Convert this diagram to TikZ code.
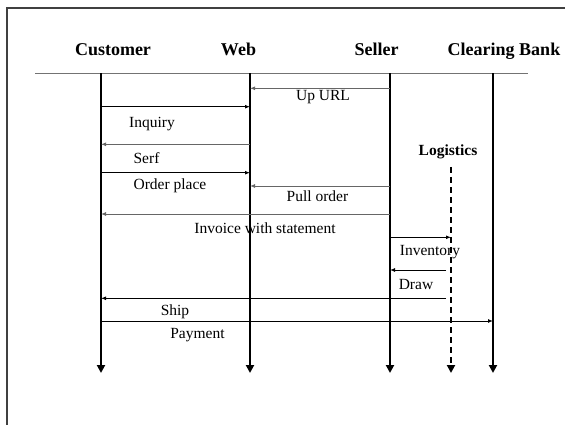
\documentclass[tikz,border=0pt]{standalone}
\usepackage{fontspec}
\setmainfont{Liberation Serif}
\usetikzlibrary{arrows.meta}
\begin{document}
\begin{tikzpicture}[x=1pt,y=-1pt,
  head/.style={font=\fontsize{18}{21}\selectfont\bfseries, inner sep=0pt, anchor=base},
  subhead/.style={font=\fontsize{15.5}{18}\selectfont\bfseries, inner sep=0pt},
  lbl/.style={font=\fontsize{15.5}{18}\selectfont, inner sep=0pt},
  life/.style={line width=2pt, -{Triangle[length=8pt,width=8pt]}},
  msg/.style={line width=1pt, -{Latex[length=5pt,width=4pt]}},
  gmsg/.style={msg, draw=black!60, -{Latex[length=5pt,width=4pt,fill=black]}},
  frame/.style={draw=black!75, line width=1.5pt}]
\useasboundingbox (0,0) rectangle (565,425);
% frame
\coordinate (fA) at (7,425);
\coordinate (fB) at (7,8);
\coordinate (fC) at (565,8);
\draw[frame] (fA) -- (fB) -- (fC);
% headers
\node[head] (hC) at (113,56) {Customer};
\node[head] (hW) at (238.5,56) {Web};
\node[head] (hS) at (376.5,56) {Seller};
\node[head] (hB) at (504,56) {Clearing Bank};
\node[subhead] (hL) at (448,152) {Logistics};
% header rule
\coordinate (rL) at (35,73.3);
\coordinate (rR) at (528,73.3);
\draw[black!55, line width=1.5pt] (rL) -- (rR);
% lifelines
\coordinate (cT) at (101,73.3); \coordinate (cB) at (101,373);
\coordinate (wT) at (250,73.3); \coordinate (wB) at (250,373);
\coordinate (sT) at (390,73.3); \coordinate (sB) at (390,373);
\coordinate (lT) at (451,167); \coordinate (lB) at (451,373);
\coordinate (bT) at (493,73.3); \coordinate (bB) at (493,373);
\draw[life] (cT) -- (cB);
\draw[life] (wT) -- (wB);
\draw[life] (sT) -- (sB);
\draw[life] (bT) -- (bB);
\draw[life, dash pattern=on 6pt off 4pt] (lT) -- (lB);
% message rows
\coordinate (y1) at (0,88.3);
\coordinate (y2) at (0,106.7);
\coordinate (y3) at (0,144.3);
\coordinate (y4) at (0,172.7);
\coordinate (y5) at (0,186);
\coordinate (y6) at (0,214);
\coordinate (y7) at (0,237.3);
\coordinate (y8) at (0,270);
\coordinate (y9) at (0,298.3);
\coordinate (y10) at (0,321);
\coordinate (lS) at (446,0);
% messages
\draw[gmsg] (sT |- y1) -- (wT |- y1);
\draw[msg] (cT |- y2) -- (wT |- y2);
\draw[gmsg] (wT |- y3) -- (cT |- y3);
\draw[msg] (cT |- y4) -- (wT |- y4);
\draw[gmsg] (sT |- y5) -- (wT |- y5);
\draw[gmsg] (sT |- y6) -- (cT |- y6);
\draw[msg] (sT |- y7) -- (lT |- y7);
\draw[msg] (lS |- y8) -- (sT |- y8);
\draw[msg] (lS |- y9) -- (cT |- y9);
\draw[msg] (cT |- y10) -- (bT |- y10);
% labels
\node[lbl] (t1) at (323,97) {Up URL};
\node[lbl] (t2) at (152,124) {Inquiry};
\node[lbl] (t3) at (146.5,158) {Serf};
\node[lbl] (t4) at (170,186) {Order place};
\node[lbl] (t5) at (317.5,196) {Pull order};
\node[lbl] (t6) at (265,228) {Invoice with statement};
\node[lbl] (t7) at (430,252) {Inventory};
\node[lbl] (t8) at (416,284) {Draw};
\node[lbl] (t9) at (175,312) {Ship};
\node[lbl] (t10) at (197.5,335) {Payment};
\end{tikzpicture}
\end{document}
